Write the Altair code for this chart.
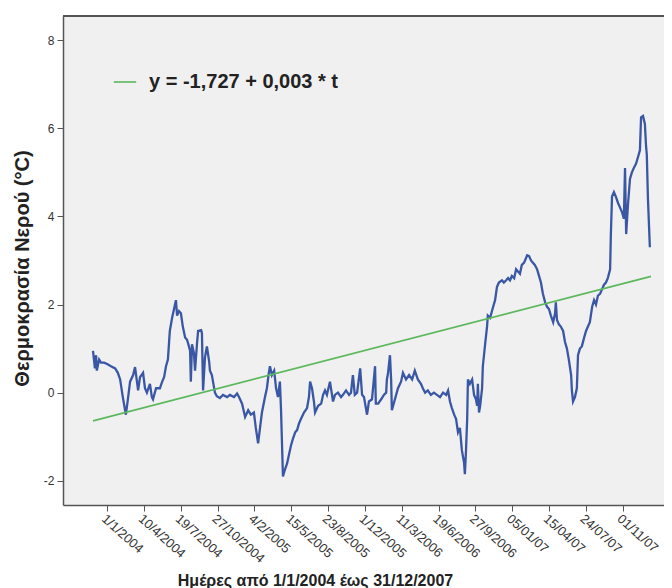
import altair as alt
import pandas as pd

# Day index (0 = 1/1/2004) and water temperature readings (°C)
days = [0, 5, 8, 10, 16, 21, 29, 37, 47, 58, 65, 71, 78, 86, 92, 97, 105, 110, 115, 118,
        123, 131, 136, 141, 149, 154, 157, 165, 175, 181, 186, 191, 196, 201, 207, 212, 217, 220, 225, 230,
        235, 241, 246, 251, 254, 256, 259, 264, 267, 272, 275, 283, 285, 288, 293, 298, 304, 306, 311, 314,
        319, 324, 332, 340, 351, 358, 369, 377, 382, 390, 398, 406, 413, 421, 426, 432, 437, 442, 450, 455,
        460, 463, 468, 474, 479, 484, 489, 492, 495, 497, 502, 508, 513, 518, 523, 529, 534, 539, 544, 552,
        560, 565, 568, 573, 578, 581, 589, 597, 602, 607, 612, 620, 628, 633, 641, 649, 654, 662, 670, 675,
        680, 685, 691, 699, 704, 709, 714, 717, 722, 730, 738, 740, 746, 754, 761, 767, 769, 772, 777, 780,
        782, 790, 798, 806, 811, 819, 827, 835, 842, 850, 858, 863, 869, 876, 884, 892, 900, 908, 916, 924,
        929, 934, 939, 945, 950, 955, 960, 965, 971, 973, 976, 979, 981, 986, 992, 997, 1002, 1005, 1007, 1010,
        1013, 1018, 1020, 1026, 1031, 1033, 1039, 1047, 1052, 1057, 1062, 1070, 1075, 1081, 1086, 1091, 1096, 1102, 1107, 1112,
        1117, 1122, 1128, 1136, 1141, 1146, 1151, 1156, 1162, 1167, 1172, 1177, 1183, 1188, 1193, 1198, 1204, 1209, 1211, 1214,
        1219, 1224, 1230, 1235, 1240, 1245, 1251, 1253, 1256, 1261, 1266, 1269, 1274, 1279, 1285, 1290, 1295, 1300, 1306, 1311,
        1316, 1321, 1327, 1332, 1337, 1342, 1347, 1353, 1355, 1358, 1363, 1368, 1374, 1379, 1384, 1389, 1392, 1395, 1400, 1405,
        1410, 1415, 1421, 1426, 1431, 1434, 1439, 1444, 1447, 1449, 1452, 1457]
temps = [0.95, 0.55, 0.85, 0.5, 0.75, 0.68, 0.68, 0.65, 0.6, 0.55, 0.45, 0.3, -0.1, -0.5, -0.1, 0.25, 0.4, 0.58, 0.25, 0.05,
         0.35, 0.45, 0.1, 0.0, 0.2, -0.1, -0.15, 0.1, 0.1, 0.25, 0.35, 0.6, 0.75, 1.4, 1.7, 1.9, 2.1, 1.75, 1.85, 1.8,
         1.5, 1.25, 1.2, 1.05, 0.95, 0.25, 1.1, 0.9, 0.5, 1.1, 1.4, 1.42, 1.35, 0.05, 0.8, 1.05, 0.7, 0.5, 0.4, 0.25,
         0.0, -0.08, -0.12, -0.05, -0.1, -0.05, -0.1, -0.02, -0.1, -0.25, -0.55, -0.4, -0.5, -0.45, -0.8, -1.15, -0.8, -0.45, -0.1, 0.1,
         0.45, 0.6, 0.4, 0.5, 0.1, -0.1, 0.25, -0.4, -1.3, -1.9, -1.75, -1.6, -1.4, -1.2, -1.05, -0.9, -0.85, -0.7, -0.6, -0.45,
         -0.35, -0.1, 0.25, 0.1, -0.2, -0.45, -0.3, -0.25, -0.05, 0.05, -0.05, 0.25, -0.2, -0.05, 0.0, -0.1, -0.05, 0.05, -0.05, 0.0,
         0.4, -0.05, 0.0, 0.55, -0.05, -0.1, -0.35, -0.5, -0.2, -0.15, 0.6, -0.25, -0.25, -0.15, -0.05, 0.0, 0.3, 0.45, 0.85, 0.3,
         -0.4, -0.15, 0.1, 0.25, 0.45, 0.3, 0.4, 0.3, 0.5, 0.3, 0.2, 0.1, 0.0, 0.05, -0.05, 0.0, -0.05, -0.1, 0.0, -0.05,
         0.05, -0.2, -0.35, -0.5, -0.6, -0.9, -0.8, -1.3, -1.6, -1.85, -1.3, -0.6, 0.3, 0.2, 0.3, -0.05, -0.15, -0.3, 0.2, -0.45,
         -0.3, 0.1, 0.6, 1.1, 1.5, 1.75, 1.7, 1.95, 2.1, 2.4, 2.5, 2.55, 2.5, 2.55, 2.6, 2.55, 2.65, 2.6, 2.8, 2.75,
         2.7, 2.9, 2.95, 3.12, 3.1, 3.0, 2.95, 2.9, 2.8, 2.65, 2.5, 2.25, 2.05, 1.95, 1.9, 1.75, 1.6, 1.8, 2.05, 1.65,
         1.55, 1.5, 1.4, 1.15, 1.0, 0.75, 0.4, 0.05, -0.2, -0.1, 0.1, 0.85, 1.0, 1.05, 1.25, 1.4, 1.5, 1.6, 1.95, 2.1,
         2.0, 2.2, 2.25, 2.35, 2.45, 2.5, 2.6, 2.8, 3.6, 4.45, 4.55, 4.45, 4.3, 4.2, 4.1, 3.95, 5.1, 3.6, 4.3, 4.85,
         5.0, 5.1, 5.2, 5.35, 5.5, 6.25, 6.28, 6.1, 5.6, 5.4, 4.4, 3.3]

trend_days = [0, 1460]
trend_temps = [-0.64, 2.64]
trend_label = ["y = -1,727 + 0,003 * t", "y = -1,727 + 0,003 * t"]

tick_days = [37, 133, 230, 326, 422, 519, 615, 711, 808, 904, 1000, 1097, 1193, 1289, 1386]
tick_labels = ["1/1/2004", "10/4/2004", "19/7/2004", "27/10/2004", "4/2/2005", "15/5/2005",
               "23/8/2005", "1/12/2005", "11/3/2006", "19/6/2006", "27/9/2006", "05/01/07",
               "15/04/07", "24/07/07", "01/11/07"]
y_ticks = [-2, 0, 2, 4, 6, 8]

FONT = "Liberation Sans"
W, H = 601, 489

df = pd.DataFrame({"t": days, "temp": temps})
tdf = pd.DataFrame({"t": trend_days, "temp": trend_temps, "series": trend_label})

label_expr = "[" + ",".join("'%s'" % s for s in tick_labels) + "][indexof([" + \
    ",".join(str(v) for v in tick_days) + "], datum.value)]"

xscale = alt.Scale(domain=[-78.5, 1494], nice=False, zero=False)
yscale = alt.Scale(domain=[-2.55, 8.55], nice=False, zero=False)

xaxis = alt.Axis(values=tick_days, labelExpr=label_expr, labelAngle=42, labelAlign="left",
                 labelBaseline="top", labelFontSize=13, labelPadding=1, tickSize=6,
                 title="Ημέρες από 1/1/2004 έως 31/12/2007", titleFontSize=16,
                 titleFontWeight="bold", titleX=252, titleY=80, titleAlign="center",
                 titleBaseline="alphabetic", grid=False, labelOverlap=False)
yaxis = alt.Axis(values=y_ticks, labelExpr="'' + datum.value", labelFontSize=12, tickSize=6,
                 labelPadding=3,
                 title="Θερμοκρασία Νερού (°C)", titleFontSize=20, titleFontWeight="bold",
                 titleX=-41, titleY=252, titleAlign="center", titleBaseline="middle",
                 titleAngle=-90, grid=False)

line = alt.Chart(df).mark_line(color="#3a57a5", strokeWidth=2.3).encode(
    x=alt.X("t:Q", scale=xscale, axis=xaxis),
    y=alt.Y("temp:Q", scale=yscale, axis=yaxis),
)

trend = alt.Chart(tdf).mark_line(strokeWidth=1.6).encode(
    x=alt.X("t:Q", scale=xscale),
    y=alt.Y("temp:Q", scale=yscale),
    color=alt.Color("series:N", scale=alt.Scale(range=["#5cb85c"]),
                    legend=alt.Legend(orient="none", legendX=50, legendY=54, title=None,
                                      symbolType="stroke", symbolSize=500,
                                      symbolStrokeWidth=1.6, labelFont=FONT,
                                      labelFontSize=20, labelFontWeight="bold",
                                      labelColor="#222222", labelOffset=12, padding=0,
                                      labelLimit=0)),
)

top_border = alt.Chart(df).mark_rule(color="#555555", strokeWidth=1.5).encode(
    x=alt.value(0), x2=alt.value(W), y=alt.value(0)
)

chart = alt.layer(top_border, line, trend).properties(
    width=W, height=H,
    padding={"left": 55, "top": 8, "right": 0, "bottom": 83},
    autosize=alt.AutoSizeParams(type="none"),
    background="white",
).configure_view(
    fill="#f0f0f0", strokeWidth=0
).configure_axis(
    domainColor="#555555", domainWidth=1.5, tickColor="#555555", labelColor="#333333",
    labelFont=FONT, titleFont=FONT, titleColor="#222222"
)

chart.save("out.html", embed_options={"renderer": "svg", "actions": False})
